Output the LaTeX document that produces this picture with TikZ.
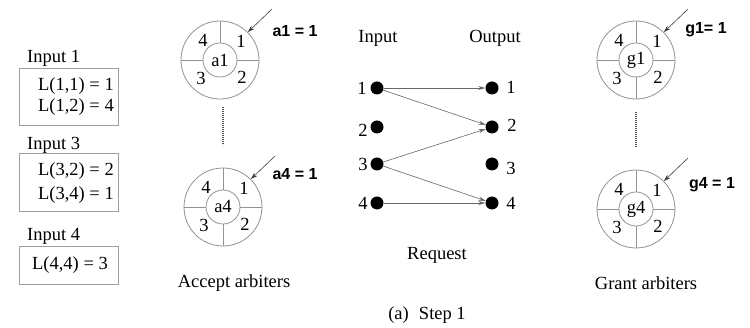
\documentclass[tikz,border=0pt]{standalone}
\usepackage{fontspec}
\setmainfont{Liberation Serif}
\newfontfamily\lblfont{Liberation Sans}
\usetikzlibrary{arrows.meta,calc}

\newcommand\arbiter[4]{%
  \node[outer] (#1) at (#2,#3) {};
  \node[innerc] (#1c) at (#2,#3) {#4};
  \draw[div] (#1c.north) -- (#1.north);
  \draw[div] (#1c.east) -- (#1.east);
  \draw[div] (#1c.west) -- (#1.west);
  \node[txt] (#1n4) at ($(#1)+(-17,-20)$) {4};
  \node[txt] (#1n1) at ($(#1)+(21,-19)$) {1};
  \node[txt] (#1n3) at ($(#1)+(-19,18)$) {3};
  \node[txt] (#1n2) at ($(#1)+(22,17)$) {2};
  \coordinate (#1p) at ($(#1)+(52,-51)$);
  \draw[ptr] (#1p) -- (#1.45);
}

\begin{document}
\begin{tikzpicture}[x=1pt,y=-1pt,
  txt/.style={font=\fontsize{18.5}{21}\selectfont, inner sep=0pt, text=black},
  lbl/.style={font=\lblfont\bfseries\fontsize{16}{18}\selectfont, inner sep=0pt},
  outer/.style={circle, draw=gray!85, line width=0.8pt, minimum size=78pt, inner sep=0pt},
  innerc/.style={circle, draw=gray!85, line width=0.8pt, minimum size=34pt, inner sep=0pt, font=\fontsize{18.5}{21}\selectfont},
  div/.style={draw=gray!85, line width=0.8pt},
  ptr/.style={-{Stealth[length=7pt,width=4.5pt]}, line width=0.6pt, black!75},
  dot/.style={circle, fill=black, minimum size=13pt, inner sep=0pt},
  req/.style={-{Stealth[length=7pt,width=4pt]}, black!60, line width=0.6pt},
  vdots/.style={line width=1.3pt, dash pattern=on 0.7pt off 1.3pt, black!70},
  inbox/.style={draw=gray!75, line width=1pt, inner sep=0pt}
]
\useasboundingbox[fill=white] (0,0) rectangle (750,328);

% ---- left: input boxes ----
\node[txt, anchor=west] (in1) at (27,58) {Input 1};
\node[inbox, minimum width=99pt, minimum height=57pt] (box1) at (68.5,97.5) {};
\node[txt, anchor=east] (l11) at (114,86) {L(1,1) = 1};
\node[txt, anchor=east] (l12) at (114,107) {L(1,2) = 4};

\node[txt, anchor=west] (in3) at (27,145) {Input 3};
\node[inbox, minimum width=99pt, minimum height=58pt] (box3) at (68.5,183) {};
\node[txt, anchor=east] (l32) at (114,171) {L(3,2) = 2};
\node[txt, anchor=east] (l34) at (114,195) {L(3,4) = 1};

\node[txt, anchor=west] (in4) at (27,236) {Input 4};
\node[inbox, minimum width=99pt, minimum height=38pt] (box4) at (68.5,266) {};
\node[txt] (l44) at (70,265) {L(4,4) = 3};

% ---- accept arbiters ----
\arbiter{a1}{220}{60}{a1}
\node[lbl] (a1l) at (295,31) {a1 = 1};
\arbiter{a4}{223}{207}{a4}
\draw[div] (a4c.south) -- (a4.south);
\node[lbl] (a4l) at (295,174) {a4 = 1};
\coordinate (ad1) at (223,107);
\coordinate (ad2) at (223,145);
\draw[vdots] (ad1) -- (ad2);
\node[txt] (acc) at (234,283) {Accept arbiters};

% ---- request graph ----
\node[txt] (hin) at (378,38) {Input};
\node[txt] (hout) at (495,38) {Output};
\foreach \i/\y in {1/88,2/127,3/164,4/203}{
  \node[dot] (i\i) at (377,\y) {};
  \node[dot] (o\i) at (492,\y) {};
}
\node[txt] (il1) at (362,88) {1};
\node[txt] (il2) at (363,130) {2};
\node[txt] (il3) at (363,164) {3};
\node[txt] (il4) at (363,203) {4};
\node[txt] (ol1) at (511,87) {1};
\node[txt] (ol2) at (512,125) {2};
\node[txt] (ol3) at (511,168) {3};
\node[txt] (ol4) at (511,203) {4};
\draw[req] (i1) -- (o1);
\draw[req] (i1) -- (o2);
\draw[req] (i3) -- (o2);
\draw[req] (i3) -- (o4);
\draw[req] (i4) -- (o4);
\node[txt] (reqt) at (437,255) {Request};

% ---- grant arbiters ----
\arbiter{g1}{636}{60}{g1}
\draw[div] (g1c.south) -- (g1.south);
\node[lbl] (g1l) at (706,30) {g1= 1};
\arbiter{g4}{636}{209}{g4}
\draw[div] (g4c.south) -- (g4.south);
\node[lbl] (g4l) at (712,185) {g4 = 1};
\coordinate (gd1) at (636,112);
\coordinate (gd2) at (636,147);
\draw[vdots] (gd1) -- (gd2);
\node[txt] (grt) at (646,283) {Grant arbiters};

% ---- caption ----
\node[txt] (cap) at (427,315) {(a)\hspace{0.55em}Step 1};
\end{tikzpicture}
\end{document}
